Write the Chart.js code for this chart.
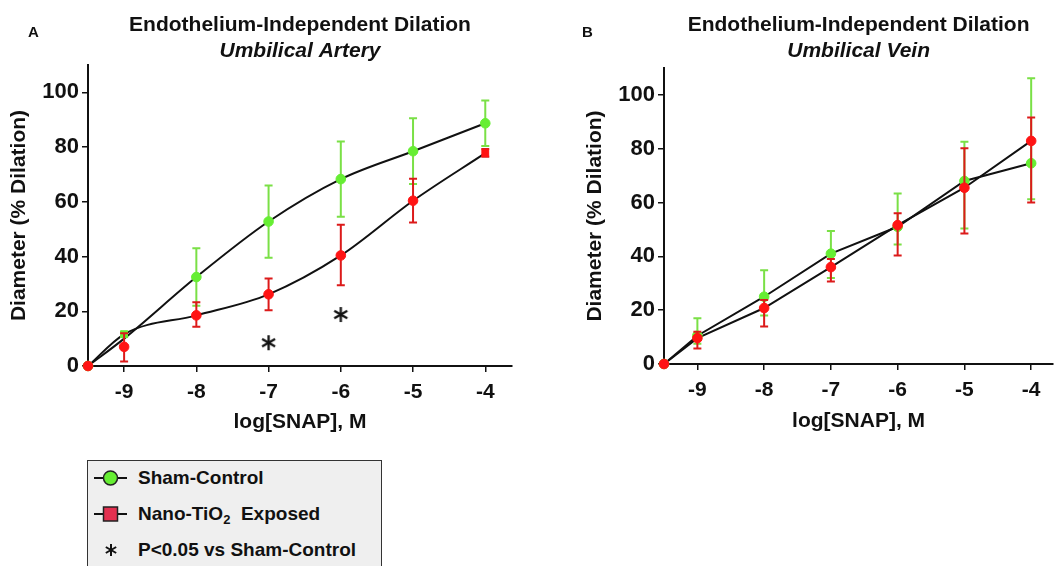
<!DOCTYPE html>
<html lang="en">
<head>
<meta charset="UTF-8">
<title>Endothelium-Independent Dilation</title>
<script src="https://cdn.jsdelivr.net/npm/chart.js@4.4.1/dist/chart.umd.min.js"></script>
<style>
    body {
        margin: 0;
        background: #ffffff;
        font-family: "Liberation Sans", Arial, sans-serif;
    }
    .page {
        position: relative;
        width: 1059px;
        height: 566px;
        overflow: hidden;
    }
    #chartA { position: absolute; left: 0; top: 0; }
    #chartB { position: absolute; left: 560px; top: 0; }
    .panel-tag {
        position: absolute;
        font-weight: bold;
        font-size: 15px;
        color: #111;
    }
    .legend {
        position: absolute;
        left: 87px;
        top: 460px;
        width: 295px;
        height: 130px;
        box-sizing: border-box;
        background: #efefef;
        border: 1.5px solid #333;
    }
    .legend .row {
        position: absolute;
        left: 0;
        height: 24px;
        display: flex;
        align-items: center;
        font-weight: bold;
        font-size: 19px;
        color: #111;
        white-space: nowrap;
    }
    .legend svg {
        width: 33px;
        height: 24px;
        margin-left: 6px;
        margin-right: 11px;
    }
    .legend sub { font-size: 13px; vertical-align: -4px; line-height: 0; }
</style>
</head>
<body>
<div class="page">
    <canvas id="chartA" width="530" height="445"></canvas>
    <canvas id="chartB" width="499" height="445"></canvas>
    <div class="panel-tag" style="left:28px; top:23px;">A</div>
    <div class="panel-tag" style="left:582px; top:23px;">B</div>

    <div class="legend">
        <div class="row" style="top:4.5px;">
            <svg viewBox="0 0 33 24"><line x1="0" y1="12" x2="33" y2="12" stroke="#111" stroke-width="2"/><circle cx="16.5" cy="12" r="7" fill="#66ee33" stroke="#222" stroke-width="1.5"/></svg>
            <span>Sham-Control</span>
        </div>
        <div class="row" style="top:40.5px;">
            <svg viewBox="0 0 33 24"><line x1="0" y1="12" x2="33" y2="12" stroke="#111" stroke-width="2"/><rect x="9.5" y="5" width="14" height="14" fill="#e33050" stroke="#222" stroke-width="1.5"/></svg>
            <span>Nano-TiO<sub>2</sub>&nbsp; Exposed</span>
        </div>
        <div class="row" style="top:76.5px;">
            <svg viewBox="0 0 33 24"><g stroke="#111" stroke-width="2"><line x1="17" y1="6" x2="17" y2="18"/><line x1="11.8" y1="9" x2="22.2" y2="15"/><line x1="11.8" y1="15" x2="22.2" y2="9"/></g></svg>
            <span>P&lt;0.05 vs Sham-Control</span>
        </div>
    </div>
</div>

<script>
    // x positions (log molar SNAP), first point is the baseline
    const doses = [-9.5, -9, -8, -7, -6, -5, -4];
    const xTicks = [-9, -8, -7, -6, -5, -4];
    const yTicks = [0, 20, 40, 60, 80, 100];

    // Panel A - umbilical artery
    const shamArtery   = [0, 11.6, 32.5, 52.8, 68.3, 78.5, 88.7];
    const shamArteryHi = [null, 12.6, 43, 66, 82, 90.5, 97];
    const shamArteryLo = [null, 10.6, 22, 39.6, 54.5, 66.5, 80.4];
    const nanoArtery   = [0, 7, 18.5, 26.2, 40.4, 60.4, 77.8];
    const nanoArteryHi = [null, 12, 23.3, 32, 51.6, 68.4, 79.3];
    const nanoArteryLo = [null, 1.6, 14.3, 20.4, 29.5, 52.4, 76.5];
    // fitted curves drawn in black
    const shamArteryFit = [0, 10, 32.5, 52.8, 68.3, 78.5, 88.7];
    const nanoArteryFit = [0, 11.6, 18.5, 26.2, 40.4, 60.4, 77.8];
    // significance marks
    const sigDoses = [-7, -6];
    const sigMarkY = [8.5, 18.8];

    // Panel B - umbilical vein
    const shamVein   = [0, 10.5, 25, 41, 51, 68, 74.6];
    const shamVeinHi = [null, 17, 34.8, 49.4, 63.4, 82.6, 106.2];
    const shamVeinLo = [null, 7.5, 18, 32, 44.4, 50.4, 61.2];
    const nanoVein   = [0, 9.6, 20.8, 36, 51.6, 65.5, 82.9];
    const nanoVeinHi = [null, 12, 23.8, 39, 56, 80.2, 91.6];
    const nanoVeinLo = [null, 5.8, 13.9, 30.7, 40.3, 48.5, 60];

    const FONT = '"Liberation Sans", Arial, sans-serif';
    const INK = '#111';

    function pts(values) {
        return doses.map((d, i) => ({ x: d, y: values[i] }));
    }

    function asteriskImage(size) {
        const c = document.createElement('canvas');
        c.width = c.height = size;
        const g = c.getContext('2d');
        g.strokeStyle = '#111';
        g.lineWidth = 2.3;
        const r = size / 2 - 1;
        for (let k = 0; k < 3; k++) {
            const a = Math.PI / 2 + k * Math.PI / 3;
            g.beginPath();
            g.moveTo(size / 2 + r * Math.cos(a), size / 2 + r * Math.sin(a));
            g.lineTo(size / 2 - r * Math.cos(a), size / 2 - r * Math.sin(a));
            g.stroke();
        }
        return c;
    }

    // draws whiskers just before the points of a dataset
    const errorBars = {
        id: 'errorBars',
        beforeDatasetDraw(chart, args) {
            const ds = chart.data.datasets[args.index];
            if (!ds.errHi) return;
            const { ctx, scales: { x, y } } = chart;
            ctx.save();
            ctx.strokeStyle = ds.errColor;
            ctx.lineWidth = 2;
            ds.data.forEach((p, i) => {
                if (ds.errHi[i] == null) return;
                const px = x.getPixelForValue(p.x);
                const yh = y.getPixelForValue(ds.errHi[i]);
                const yl = y.getPixelForValue(ds.errLo[i]);
                ctx.beginPath();
                ctx.moveTo(px, yh); ctx.lineTo(px, yl);
                ctx.moveTo(px - 4, yh); ctx.lineTo(px + 4, yh);
                ctx.moveTo(px - 4, yl); ctx.lineTo(px + 4, yl);
                ctx.stroke();
            });
            ctx.restore();
        }
    };

    function makeChart(id, opt) {
        const datasets = [
            { data: pts(opt.shamLine), borderColor: INK, borderWidth: 2, pointRadius: 0,
              cubicInterpolationMode: opt.smooth ? 'monotone' : 'default', tension: 0, order: 5 },
            { data: pts(opt.nanoLine), borderColor: INK, borderWidth: 2, pointRadius: 0,
              cubicInterpolationMode: opt.smooth ? 'monotone' : 'default', tension: 0, order: 5 },
            { label: 'Sham-Control', data: pts(opt.sham), showLine: false, clip: false,
              pointStyle: opt.shamStyle, pointRadius: 4.8, pointBackgroundColor: '#66ee33',
              pointBorderColor: '#66ee33', errHi: opt.shamHi, errLo: opt.shamLo, errColor: '#7ae046', order: 2 },
            { label: 'Nano-TiO2 Exposed', data: pts(opt.nano), showLine: false, clip: false,
              pointStyle: opt.nanoStyle, pointRadius: 4.8, pointBackgroundColor: '#ff1414',
              pointBorderColor: '#ff1414', errHi: opt.nanoHi, errLo: opt.nanoLo, errColor: '#dc1a1a', order: 1 }
        ];
        if (opt.sigX) {
            datasets.push({ data: opt.sigX.map((d, i) => ({ x: d, y: opt.sigY[i] })), showLine: false,
                pointStyle: asteriskImage(17), pointRadius: 8, order: 0 });
        }

        return new Chart(document.getElementById(id), {
            type: 'line',
            data: { datasets: datasets },
            plugins: [errorBars],
            options: {
                responsive: false,
                animation: false,
                layout: { padding: { left: 0, right: opt.padRight, top: 0, bottom: 0 } },
                plugins: {
                    legend: { display: false },
                    tooltip: { enabled: false },
                    title: {
                        display: true, fullSize: false, color: INK,
                        text: 'Endothelium-Independent Dilation',
                        font: { family: FONT, size: 21, weight: 'bold' },
                        padding: { top: 13, bottom: 0 }
                    },
                    subtitle: {
                        display: true, fullSize: false, color: INK,
                        text: opt.subtitle,
                        font: { family: FONT, size: 21, weight: 'bold', style: 'italic' },
                        padding: { top: 0, bottom: opt.subPad }
                    }
                },
                scales: {
                    x: {
                        type: 'linear', min: -9.5, max: opt.xMax,
                        afterBuildTicks: s => { s.ticks = xTicks.map(v => ({ value: v })); },
                        afterFit: s => { s.height = opt.xHeight; },
                        border: { color: INK, width: 2 },
                        grid: { drawOnChartArea: false, drawTicks: true, tickLength: 6, color: INK, lineWidth: 1.5 },
                        ticks: { color: INK, padding: 8, font: { family: FONT, size: 21, weight: 'bold' } },
                        title: { display: true, text: 'log[SNAP], M', color: INK,
                                 font: { family: FONT, size: 21, weight: 'bold' },
                                 padding: { top: 0, bottom: opt.xTitlePad } }
                    },
                    y: {
                        min: 0, max: 110,
                        afterBuildTicks: s => { s.ticks = yTicks.map(v => ({ value: v })); },
                        afterFit: s => { s.width = opt.yWidth; },
                        border: { color: INK, width: 2 },
                        grid: { drawOnChartArea: false, drawTicks: true, tickLength: 6, color: INK, lineWidth: 1.5 },
                        ticks: { color: INK, padding: 3, font: { family: FONT, size: 22, weight: 'bold' } },
                        title: { display: true, text: 'Diameter (% Dilation)', color: INK,
                                 font: { family: FONT, size: 21, weight: 'bold' },
                                 padding: { top: opt.yTitlePad, bottom: 0 } }
                    }
                }
            }
        });
    }

    makeChart('chartA', {
        subtitle: 'Umbilical Artery',
        sham: shamArtery, shamHi: shamArteryHi, shamLo: shamArteryLo,
        nano: nanoArtery, nanoHi: nanoArteryHi, nanoLo: nanoArteryLo,
        shamLine: shamArteryFit, nanoLine: nanoArteryFit, smooth: true,
        shamStyle: ['circle', 'rect', 'circle', 'circle', 'circle', 'circle', 'circle'],
        nanoStyle: ['circle', 'circle', 'circle', 'circle', 'circle', 'circle', 'rect'],
        sigX: sigDoses, sigY: sigMarkY,
        xMax: -3.63, padRight: 18, subPad: 1.6,
        xHeight: 79, xTitlePad: 10, yWidth: 88, yTitlePad: 7
    });

    makeChart('chartB', {
        subtitle: 'Umbilical Vein',
        sham: shamVein, shamHi: shamVeinHi, shamLo: shamVeinLo,
        nano: nanoVein, nanoHi: nanoVeinHi, nanoLo: nanoVeinLo,
        shamLine: shamVein, nanoLine: nanoVein, smooth: false,
        shamStyle: 'circle', nanoStyle: 'circle',
        xMax: -3.67, padRight: 0, subPad: 4.6,
        xHeight: 81, xTitlePad: 11, yWidth: 104, yTitlePad: 23
    });
</script>
</body>
</html>
